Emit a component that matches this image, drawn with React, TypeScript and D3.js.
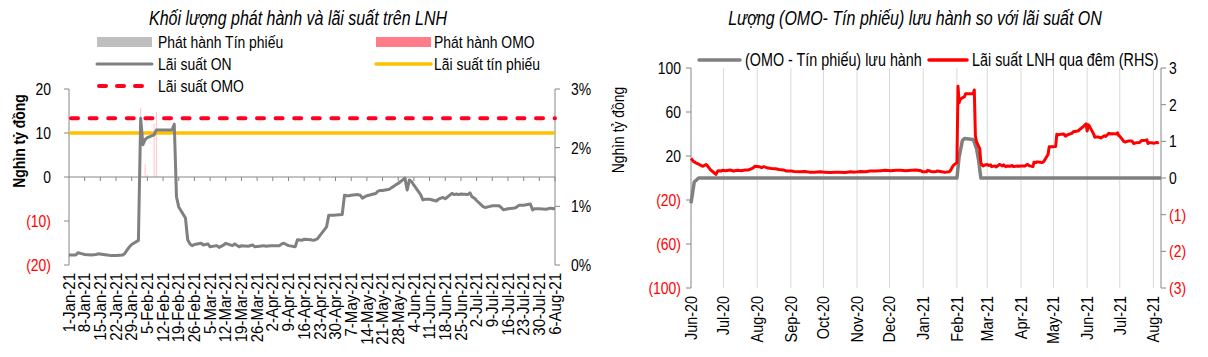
import React from 'react';
import * as d3 from 'd3';

const FONT = "'Liberation Sans', Arial, sans-serif";

// ---------- DATA ----------
// Overnight interbank rate (%), used by both charts
const onRate: [string, number][] = [
  ["2020-06-01",0.53],["2020-06-02",0.50],["2020-06-03",0.46],["2020-06-04",0.44],["2020-06-05",0.42],["2020-06-08",0.38],["2020-06-09",0.36],["2020-06-10",0.35],["2020-06-11",0.33],["2020-06-12",0.32],["2020-06-15",0.37],["2020-06-16",0.34],["2020-06-17",0.30],["2020-06-18",0.26],["2020-06-19",0.22],["2020-06-22",0.15],["2020-06-23",0.12],["2020-06-24",0.10],["2020-06-25",0.16],["2020-06-26",0.20],["2020-06-29",0.19],["2020-06-30",0.21],
  ["2020-07-03",0.20],["2020-07-07",0.22],["2020-07-10",0.19],["2020-07-14",0.21],["2020-07-17",0.20],["2020-07-21",0.22],["2020-07-24",0.22],["2020-07-28",0.27],["2020-07-30",0.32],
  ["2020-08-03",0.31],["2020-08-05",0.28],["2020-08-07",0.31],["2020-08-11",0.27],["2020-08-14",0.26],["2020-08-18",0.25],["2020-08-21",0.23],["2020-08-25",0.22],["2020-08-28",0.19],
  ["2020-09-01",0.19],["2020-09-04",0.18],["2020-09-09",0.17],["2020-09-14",0.18],["2020-09-18",0.16],["2020-09-23",0.16],["2020-09-28",0.17],
  ["2020-10-02",0.16],["2020-10-07",0.15],["2020-10-12",0.16],["2020-10-16",0.16],["2020-10-21",0.15],["2020-10-26",0.17],["2020-10-30",0.16],
  ["2020-11-04",0.18],["2020-11-09",0.17],["2020-11-13",0.19],["2020-11-18",0.19],["2020-11-23",0.20],["2020-11-27",0.21],
  ["2020-12-02",0.20],["2020-12-07",0.21],["2020-12-11",0.21],["2020-12-16",0.20],["2020-12-21",0.21],["2020-12-25",0.22],["2020-12-30",0.20],["2020-12-31",0.17],
  ["2021-01-04",0.17],["2021-01-05",0.21],["2021-01-07",0.19],["2021-01-08",0.18],["2021-01-11",0.17],["2021-01-13",0.18],["2021-01-14",0.19],["2021-01-18",0.17],["2021-01-20",0.16],["2021-01-22",0.16],["2021-01-25",0.17],["2021-01-26",0.20],["2021-01-27",0.26],["2021-01-28",0.31],["2021-01-29",0.35],
  ["2021-02-01",0.42],["2021-02-02",2.50],["2021-02-03",2.05],["2021-02-04",2.14],["2021-02-05",2.17],["2021-02-08",2.22],["2021-02-09",2.30],["2021-02-16",2.30],["2021-02-17",2.40],["2021-02-18",1.16],["2021-02-19",0.99],["2021-02-22",0.80],["2021-02-23",0.43],["2021-02-24",0.36],["2021-02-25",0.33],["2021-02-26",0.35],
  ["2021-03-01",0.37],["2021-03-02",0.34],["2021-03-04",0.36],["2021-03-05",0.31],["2021-03-08",0.33],["2021-03-09",0.30],["2021-03-11",0.34],["2021-03-12",0.37],["2021-03-15",0.33],["2021-03-16",0.36],["2021-03-18",0.31],["2021-03-19",0.33],["2021-03-22",0.32],["2021-03-24",0.34],["2021-03-25",0.31],["2021-03-29",0.33],["2021-03-30",0.32],
  ["2021-04-01",0.33],["2021-04-05",0.33],["2021-04-06",0.36],["2021-04-07",0.37],["2021-04-08",0.35],["2021-04-09",0.33],["2021-04-12",0.31],["2021-04-13",0.43],["2021-04-15",0.42],["2021-04-16",0.44],["2021-04-19",0.43],["2021-04-20",0.42],["2021-04-21",0.43],["2021-04-22",0.45],["2021-04-23",0.50],["2021-04-26",0.65],["2021-04-27",0.85],["2021-04-28",0.85],["2021-04-29",0.85],
  ["2021-05-03",0.86],["2021-05-04",1.19],["2021-05-05",1.18],["2021-05-06",1.18],["2021-05-07",1.19],["2021-05-10",1.20],["2021-05-11",1.19],["2021-05-12",1.14],["2021-05-13",1.16],["2021-05-14",1.18],["2021-05-17",1.21],["2021-05-18",1.22],["2021-05-19",1.26],["2021-05-20",1.27],["2021-05-21",1.27],["2021-05-24",1.29],["2021-05-25",1.32],["2021-05-26",1.34],["2021-05-27",1.37],["2021-05-28",1.39],["2021-05-31",1.48],
  ["2021-06-01",1.28],["2021-06-02",1.45],["2021-06-03",1.42],["2021-06-04",1.36],["2021-06-07",1.20],["2021-06-08",1.11],["2021-06-09",1.12],["2021-06-10",1.12],["2021-06-11",1.12],["2021-06-14",1.09],["2021-06-15",1.12],["2021-06-16",1.14],["2021-06-17",1.15],["2021-06-18",1.13],["2021-06-21",1.22],["2021-06-22",1.20],["2021-06-23",1.21],["2021-06-24",1.20],["2021-06-25",1.21],["2021-06-28",1.20],["2021-06-29",1.23],["2021-06-30",1.16],
  ["2021-07-01",1.14],["2021-07-02",1.10],["2021-07-05",0.99],["2021-07-06",0.98],["2021-07-07",0.99],["2021-07-08",1.00],["2021-07-09",1.01],["2021-07-12",1.01],["2021-07-13",0.98],["2021-07-14",0.94],["2021-07-15",0.95],["2021-07-16",0.96],["2021-07-19",0.97],["2021-07-20",0.99],["2021-07-21",1.02],["2021-07-22",1.02],["2021-07-23",1.02],["2021-07-26",1.04],["2021-07-27",0.94],["2021-07-28",0.96],["2021-07-29",0.96],["2021-07-30",0.96],
  ["2021-08-02",0.95],["2021-08-03",0.96],["2021-08-04",0.97],["2021-08-05",0.96],["2021-08-06",0.97],
];

// OMO issuance (thousand bn VND)
const omoIssueDates = ["2021-02-02","2021-02-04","2021-02-05","2021-02-08","2021-02-09"];
const omoIssueValues = [15.8, 3.0, 0.5, 12.1, 14.8];
// T-bill issuance (none visible)
const tbIssueDates: string[] = [];
const tbIssueValues: number[] = [];
// Policy rates (%)
const omoRate = 2.5;
const tbRate = 2.25;

// (OMO - T-bill) outstanding (thousand bn VND)
const outstanding: [string, number][] = [
  ["2020-06-01",-23],["2020-06-04",-3.6],["2020-06-08",0],["2021-02-01",0],["2021-02-03",19],["2021-02-06",34],["2021-02-08",36],["2021-02-16",35],["2021-02-19",27],["2021-02-21",16],["2021-02-23",0],["2021-08-08",0],
];

const leftYTicks = [-20, -10, 0, 10, 20];
const leftY2Ticks = [0, 1, 2, 3];
const rightYTicks = [-100, -60, -20, 20, 60, 100];
const rightY2Ticks = [-3, -2, -1, 0, 1, 2, 3];

const parse = d3.timeParse('%Y-%m-%d');
const fmtNeg = (v: number) => (v < 0 ? `(${-v})` : `${v}`);

// narrow text helper (emulates a condensed face)
function T(props: { x: number; y: number; size?: number; sx?: number; rot?: number; anchor?: string; fill?: string; bold?: boolean; italic?: boolean; baseline?: string; children: React.ReactNode }) {
  const { x, y, size = 17, sx = 0.82, rot = 0, anchor = 'start', fill = '#000', bold, italic, baseline, children } = props;
  return (
    <text
      transform={`translate(${x},${y}) rotate(${rot}) scale(${sx},1)`}
      textAnchor={anchor}
      fontSize={size}
      fill={fill}
      fontWeight={bold ? 'bold' : 'normal'}
      fontStyle={italic ? 'italic' : 'normal'}
      dominantBaseline={baseline}
    >
      {children}
    </text>
  );
}

export default function App() {
  const AX = '#868686';
  // ---------- left chart scales ----------
  const l0 = parse('2021-01-01')!, l1 = parse('2021-08-06')!;
  const lx = d3.scaleTime().domain([l0, l1]).range([69, 555]);
  const ly = d3.scaleLinear().domain([-20, 20]).range([265, 89]);
  const ly2 = d3.scaleLinear().domain([0, 3]).range([265, 89]);
  const weeks = d3.range(0, 32).map(i => d3.timeDay.offset(l0, 7 * i));
  const fmtL = d3.timeFormat('%-d-%b-%y');

  const onParsed = onRate.map(([d, v]) => ({ d: parse(d)!, v }));
  const lOn = onParsed.filter(p => p.d >= parse('2020-12-31')!);
  const lineL = d3.line<{ d: Date; v: number }>().x(p => lx(p.d)).y(p => ly2(p.v));

  // ---------- right chart scales ----------
  const r0 = parse('2020-06-01')!, r1 = parse('2021-08-08')!;
  const rx = d3.scaleTime().domain([r0, r1]).range([691, 1161]);
  const ry = d3.scaleLinear().domain([-100, 100]).range([288, 68]);
  const ry2 = d3.scaleLinear().domain([-3, 3]).range([288, 68]);
  const months = d3.timeMonth.range(r0, d3.timeDay.offset(r1, 1));
  const fmtR = d3.timeFormat('%b-%y');
  const lineRon = d3.line<{ d: Date; v: number }>().x(p => rx(p.d)).y(p => ry2(p.v));
  const outParsed = outstanding.map(([d, v]) => ({ d: parse(d)!, v }));
  const lineOut = d3.line<{ d: Date; v: number }>().x(p => rx(p.d)).y(p => ry(p.v));

  return (
    <svg width={1208} height={357} style={{ position: 'absolute', left: 0, top: 0, background: '#fff' }} fontFamily={FONT}>
      <defs>
        <clipPath id="clipL"><rect x={69} y={80} width={486} height={190} /></clipPath>
      </defs>
      {/* ================= LEFT CHART ================= */}
      <T x={298} y={25} size={19.5} italic anchor="middle">Khối lượng phát hành và lãi suất trên LNH</T>
      {/* legend */}
      <rect x={97} y={37} width={55} height={10} fill="#bfbfbf" />
      <T x={158} y={48}>Phát hành Tín phiếu</T>
      <rect x={376} y={37} width={55} height={10} fill="#ff7c88" />
      <T x={434} y={48}>Phát hành OMO</T>
      <line x1={97} x2={152} y1={64} y2={64} stroke="#808080" strokeWidth={3} strokeLinecap="round" />
      <T x={158} y={70}>Lãi suất ON</T>
      <line x1={376} x2={431} y1={64} y2={64} stroke="#ffc000" strokeWidth={3.5} strokeLinecap="round" />
      <T x={434} y={70}>Lãi suất tín phiếu</T>
      <line x1={99} x2={152} y1={86} y2={86} stroke="#ff0020" strokeWidth={4} strokeDasharray="7 11" strokeLinecap="round" />
      <T x={158} y={92}>Lãi suất OMO</T>

      {/* y label */}
      <T x={25} y={141} rot={-90} anchor="middle" bold>Nghìn tỷ đồng</T>

      {/* left axis */}
      <line x1={69} x2={69} y1={ly(20)} y2={ly(-20)} stroke={AX} />
      {leftYTicks.map(t => (
        <g key={'lt' + t}>
          <line x1={64} x2={69} y1={ly(t)} y2={ly(t)} stroke={AX} />
          <T x={51} y={ly(t) + 6} anchor="end" fill={t < 0 ? '#ff0000' : '#000'}>{fmtNeg(t)}</T>
        </g>
      ))}
      {/* right axis */}
      <line x1={555} x2={555} y1={ly2(3)} y2={ly2(0)} stroke={AX} />
      {leftY2Ticks.map(t => (
        <g key={'lr' + t}>
          <line x1={555} x2={560} y1={ly2(t)} y2={ly2(t)} stroke={AX} />
          <T x={571} y={ly2(t) + 6}>{`${t}%`}</T>
        </g>
      ))}
      {/* bars */}
      {tbIssueDates.map((d, i) => (
        <rect key={'tb' + i} x={lx(parse(d)!) - 0.5} width={1} y={ly(Math.max(0, tbIssueValues[i]))} height={Math.abs(ly(tbIssueValues[i]) - ly(0))} fill="#bfbfbf" />
      ))}
      {omoIssueDates.map((d, i) => (
        <rect key={'omo' + i} x={lx(parse(d)!) - 0.5} width={1} y={ly(omoIssueValues[i])} height={ly(0) - ly(omoIssueValues[i])} fill="#ff7c88" opacity={0.45} />
      ))}
      {/* zero axis with weekly ticks */}
      <line x1={69} x2={555} y1={ly(0)} y2={ly(0)} stroke={AX} />
      {weeks.slice(1).map((d, i) => (
        <line key={'wt' + i} x1={lx(d)} x2={lx(d)} y1={ly(0)} y2={ly(0) + 4} stroke={AX} />
      ))}
      {/* x labels */}
      {weeks.map((d, i) => (
        <T key={'wl' + i} x={lx(d)} y={273} rot={-90} anchor="end" baseline="central" size={16} sx={0.94}>{fmtL(d)}</T>
      ))}
      {/* rate lines */}
      <line x1={69} x2={555} y1={ly2(tbRate)} y2={ly2(tbRate)} stroke="#ffc000" strokeWidth={3.5} />
      <line x1={71} x2={555} y1={ly2(omoRate)} y2={ly2(omoRate)} stroke="#ff0020" strokeWidth={4} strokeDasharray="7 11.6" strokeLinecap="round" />
      <path d={lineL(lOn) || ''} fill="none" stroke="#808080" strokeWidth={3} strokeLinejoin="round" clipPath="url(#clipL)" />

      {/* ================= RIGHT CHART ================= */}
      <T x={915} y={25} size={19.5} italic anchor="middle">Lượng (OMO- Tín phiếu) lưu hành so với lãi suất ON</T>
      {/* gridlines */}
      {months.slice(1).map((d, i) => (
        <line key={'g' + i} x1={rx(d)} x2={rx(d)} y1={68} y2={288} stroke="#d9d9d9" />
      ))}
      {/* legend */}
      <line x1={699} x2={740} y1={60} y2={60} stroke="#808080" strokeWidth={3.5} strokeLinecap="round" />
      <T x={745} y={66} size={17.5}>(OMO - Tín phiếu) lưu hành</T>
      <line x1={929} x2={967} y1={60} y2={60} stroke="#ff0000" strokeWidth={3.5} strokeLinecap="round" />
      <T x={972} y={66} size={17.5}>Lãi suất LNH qua đêm (RHS)</T>
      {/* y label */}
      <T x={624} y={130} rot={-90} anchor="middle">Nghìn tỷ đồng</T>
      {/* left axis */}
      <line x1={691} x2={691} y1={68} y2={288} stroke={AX} />
      {rightYTicks.map(t => (
        <g key={'rt' + t}>
          <line x1={686} x2={691} y1={ry(t)} y2={ry(t)} stroke={AX} />
          <T x={681} y={ry(t) + 6} anchor="end" fill={t < 0 ? '#ff0000' : '#000'}>{fmtNeg(t)}</T>
        </g>
      ))}
      {/* right axis */}
      <line x1={1161} x2={1161} y1={68} y2={288} stroke={AX} />
      {rightY2Ticks.map(t => (
        <g key={'rr' + t}>
          <line x1={1161} x2={1166} y1={ry2(t)} y2={ry2(t)} stroke={AX} />
          <T x={1169} y={ry2(t) + 6} fill={t < 0 ? '#ff0000' : '#000'}>{fmtNeg(t)}</T>
        </g>
      ))}
      {/* x labels */}
      {months.map((d, i) => (
        <T key={'ml' + i} x={rx(d)} y={296} rot={-90} anchor="end" baseline="central" size={16} sx={0.9}>{fmtR(d)}</T>
      ))}
      {/* lines */}
      <path d={lineOut(outParsed) || ''} fill="none" stroke="#808080" strokeWidth={3.5} strokeLinejoin="round" />
      <path d={lineRon(onParsed) || ''} fill="none" stroke="#ff0000" strokeWidth={3} strokeLinejoin="round" />
    </svg>
  );
}
